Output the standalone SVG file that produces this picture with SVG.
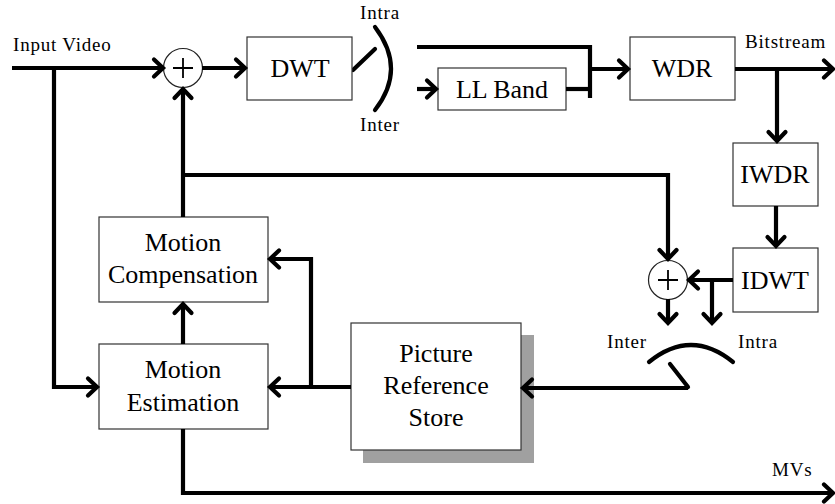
<svg xmlns="http://www.w3.org/2000/svg" width="835" height="504" viewBox="0 0 835 504">
  <style>
    .box { fill: #ffffff; stroke: #333333; stroke-width: 1.2; }
    .sum { fill: #ffffff; stroke: #222222; stroke-width: 1.2; }
    .plus { stroke: #000000; stroke-width: 1.8; fill: none; }
    .wire { fill: none; stroke: #000000; stroke-width: 4.2; stroke-linejoin: miter; }
    .arr { marker-end: url(#head); }
    .sw { fill: none; stroke: #000000; stroke-width: 4.2; stroke-linecap: round; }
    text { font-family: "Liberation Serif", "DejaVu Serif", serif; fill: #000000; }
    .lbl { font-size: 26px; text-anchor: middle; }
    .sm { font-size: 19px; letter-spacing: 0.8px; }
  </style>
  <defs>
    <marker id="head" markerUnits="userSpaceOnUse" markerWidth="24" markerHeight="24" viewBox="-14 -12 16 24" refX="0" refY="0" orient="auto">
      <path d="M-9,-8.5 L0,0 L-9,8.5" fill="none" stroke="#000000" stroke-width="4.2" stroke-linecap="round" stroke-linejoin="miter"/>
    </marker>
  </defs>
  <rect width="835" height="504" fill="#ffffff"/>

  <!-- intra/inter switch after DWT -->
  <g id="switch-dwt">
    <path class="sw" d="M353,70 L375,49"/>
    <path class="sw" d="M375,27 Q407,69 375,110"/>
    <text class="sm" x="360" y="19">Intra</text>
    <text class="sm" x="360" y="131">Inter</text>
  </g>

  <!-- intra/inter switch before reference store -->
  <g id="switch-ref">
    <path class="sw" d="M649,362 Q691,328 733,362"/>
    <path class="sw" d="M670,364 L688,387"/>
    <text class="sm" x="607" y="348">Inter</text>
    <text class="sm" x="738" y="348">Intra</text>
  </g>

  <g id="sum1">
    <circle class="sum" cx="183" cy="68" r="19.5"/>
    <path class="plus" d="M173,68 H193 M183,58 V78"/>
  </g>
  <g id="sum2">
    <circle class="sum" cx="668" cy="280" r="19.5"/>
    <path class="plus" d="M658,280 H678 M668,270 V290"/>
  </g>

  <g id="dwt">
    <rect class="box" x="247" y="37" width="105" height="63"/>
    <text class="lbl" x="300" y="77">DWT</text>
  </g>
  <g id="llband">
    <rect class="box" x="438" y="68" width="128" height="42"/>
    <text class="lbl" x="502" y="98">LL Band</text>
  </g>
  <g id="wdr">
    <rect class="box" x="630" y="37" width="105" height="63"/>
    <text class="lbl" x="682" y="77">WDR</text>
  </g>
  <g id="iwdr">
    <rect class="box" x="733" y="143" width="85" height="63"/>
    <text class="lbl" x="775" y="183">IWDR</text>
  </g>
  <g id="idwt">
    <rect class="box" x="733" y="248" width="85" height="64"/>
    <text class="lbl" x="775" y="289">IDWT</text>
  </g>
  <g id="motion-compensation">
    <rect class="box" x="99" y="217" width="169" height="85"/>
    <text class="lbl" x="183" y="251">Motion</text>
    <text class="lbl" x="183" y="283">Compensation</text>
  </g>
  <g id="motion-estimation">
    <rect class="box" x="99" y="344" width="169" height="85"/>
    <text class="lbl" x="183" y="378">Motion</text>
    <text class="lbl" x="183" y="411">Estimation</text>
  </g>
  <g id="picture-reference-store">
    <rect x="363" y="335" width="171" height="128" fill="#a0a0a0"/>
    <rect class="box" x="351" y="323" width="170" height="127"/>
    <text class="lbl" x="436" y="362">Picture</text>
    <text class="lbl" x="436" y="394">Reference</text>
    <text class="lbl" x="436" y="426">Store</text>
  </g>

  <g id="labels">
    <text class="sm" x="13" y="51">Input Video</text>
    <text class="sm" x="745" y="48">Bitstream</text>
    <text class="sm" x="772" y="476">MVs</text>
  </g>

  <!-- connectors, drawn last so arrowheads sit above the store's shadow -->
  <g id="connectors">
    <path class="wire arr" d="M12,68 H163"/>
    <path class="wire arr" d="M54,68 V387 H97"/>
    <path class="wire arr" d="M202,68 H245"/>
    <path class="wire" d="M417,47 H590 V98"/>
    <path class="wire" d="M566,89 H590"/>
    <path class="wire arr" d="M590,69 H628"/>
    <path class="wire arr" d="M417,89 H436"/>
    <path class="wire arr" d="M735,69 H833"/>
    <path class="wire arr" d="M777,69 V141"/>
    <path class="wire arr" d="M776,206 V246"/>
    <path class="wire arr" d="M733,280 H689"/>
    <path class="wire arr" d="M712,280 V323"/>
    <path class="wire arr" d="M668,299 V323"/>
    <path class="wire arr" d="M183,217 V89"/>
    <path class="wire arr" d="M183,175 H668 V259"/>
    <path class="wire arr" d="M183,344 V304"/>
    <path class="wire arr" d="M351,387 H270"/>
    <path class="wire arr" d="M311,387 V259 H270"/>
    <path class="wire arr" d="M688,388 H523"/>
    <path class="wire arr" d="M183,429 V493 H833"/>
  </g>
</svg>
